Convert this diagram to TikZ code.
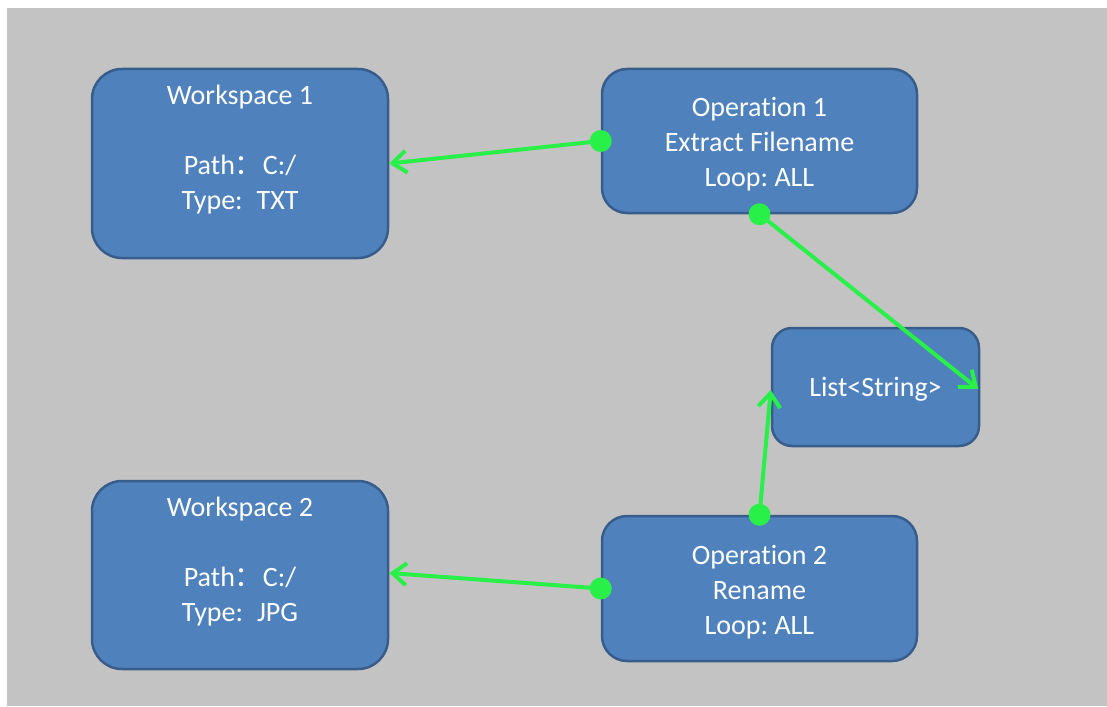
\documentclass[tikz,border=0pt]{standalone}
\usepackage{fontspec}
\setmainfont{Carlito}[RawFeature={-liga;-calt;-clig;-dlig}]
\newfontfamily\cjk{Noto Sans CJK SC}
\usetikzlibrary{arrows.meta}
\frenchspacing
\definecolor{bg}{RGB}{195,195,195}
\definecolor{boxfill}{RGB}{79,129,189}
\definecolor{boxline}{RGB}{56,93,138}
\definecolor{conn}{RGB}{40,240,72}
\tikzset{
  box/.style={draw=boxline, line width=2.5pt, fill=boxfill, inner sep=0pt},
  txt/.style={text=white, align=center, inner sep=0pt, font=\fontsize{28}{35}\selectfont},
  link/.style={draw=conn, line width=4pt, -{Straight Barb[length=14pt,width=22pt,line width=4pt]}},
  dot/.style={fill=conn}
}
\begin{document}
\begin{tikzpicture}[x=1pt,y=-1pt]
\useasboundingbox (0,0) rectangle (1107,706);
\fill[white] (0,0) rectangle (1107,706);
\fill[bg] (7,8) rectangle (1107,706);
% boxes
\node[box, minimum width=296pt, minimum height=189pt, rounded corners=30pt] (ws1) at (240,163.5) {};
\node[box, minimum width=315pt, minimum height=144pt, rounded corners=25pt] (op1) at (759.5,141) {};
\node[box, minimum width=207pt, minimum height=118pt, rounded corners=20pt] (lst) at (875.5,387) {};
\node[box, minimum width=296pt, minimum height=188pt, rounded corners=30pt] (ws2) at (240,575) {};
\node[box, minimum width=315pt, minimum height=145pt, rounded corners=25pt] (op2) at (759.5,588.5) {};
% texts
\node[txt] (ws1t) at (240,149.5) {\strut Workspace 1\\ \strut\\ \strut Path{\cjk：}C:/\\ \strut Type:\hspace{14pt}TXT};
\node[txt] (op1t) at (759.5,144) {\strut Operation 1\\ \strut Extract Filename\\ \strut Loop: ALL};
\node[txt] (lstt) at (875.5,389) {\strut List<String>};
\node[txt] (ws2t) at (240,561.5) {\strut Workspace 2\\ \strut\\ \strut Path{\cjk：}C:/\\ \strut Type:\hspace{14pt}JPG};
\node[txt] (op2t) at (759.5,592) {\strut Operation 2\\ \strut Rename\\ \strut Loop: ALL};
% connectors
\draw[link] (op1.west) -- (ws1.east);
\draw[link] (op1.south) -- ([xshift=-2pt,yshift=-2pt]lst.east);
\draw[link] (op2.north) -- ([yshift=-3pt]lst.west);
\draw[link] (op2.west) -- ([yshift=2pt]ws2.east);
\fill[dot] (op1.west) circle (11pt);
\fill[dot] (op1.south) circle (11pt);
\fill[dot] (op2.north) circle (11pt);
\fill[dot] (op2.west) circle (11pt);
\end{tikzpicture}
\end{document}
